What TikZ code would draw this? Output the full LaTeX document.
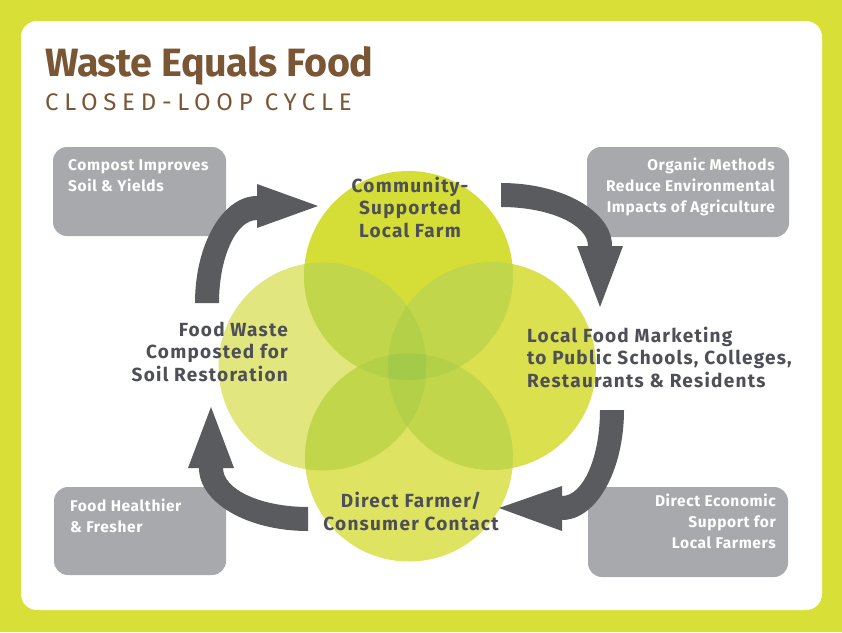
\documentclass[tikz,border=0pt]{standalone}
\usepackage{fontspec}
\setmainfont{Fira Sans}
\newfontfamily\titlefont{Fira Sans}[LetterSpace=-1]
\newfontfamily\labfont{Fira Sans}[LetterSpace=6.5]
\newfontfamily\boxfont{Fira Sans}[LetterSpace=4]
\newfontfamily\subfont{Fira Sans}[LetterSpace=24]
\definecolor{bglime}{RGB}{216,224,56}
\definecolor{brownc}{RGB}{123,86,52}
\definecolor{boxc}{RGB}{167,169,172}
\definecolor{arrowc}{RGB}{90,91,95}
\definecolor{labc}{RGB}{78,79,87}
\definecolor{ctopc}{RGB}{213,222,54}
\definecolor{cleftc}{RGB}{225,230,126}
\definecolor{crightc}{RGB}{219,224,78}
\definecolor{cbotc}{RGB}{222,228,98}
\definecolor{pairc}{RGB}{193,214,74}
\definecolor{tric}{RGB}{180,208,72}
\definecolor{centc}{RGB}{163,202,72}
\tikzset{
  graybox/.style={fill=boxc, rounded corners=14pt, inner sep=0pt},
  lab/.style={inner sep=0pt, text=labc, font=\labfont\bfseries\fontsize{19}{22.5}\selectfont},
  boxtxt/.style={inner sep=0pt, text=white, font=\boxfont\bfseries\fontsize{15.5}{21}\selectfont},
  bigarrow/.style={fill=arrowc}
}
\begin{document}
\begin{tikzpicture}[x=1pt,y=-1pt]
\fill[bglime] (0,0) rectangle (842,632);
\fill[white, rounded corners=16pt] (21,21) rectangle (822,610);
\useasboundingbox (0,0) rectangle (842,632);

% title
\node[anchor=base west, inner sep=0pt, text=brownc, font=\titlefont\bfseries\fontsize{39.5}{40}\selectfont] (title) at (45,76) {Waste Equals Food};
\node[anchor=base west, inner sep=0pt, text=brownc, font=\subfont\fontsize{24}{24}\selectfont] (subtitle) at (45,110) {CLOSED-LOOP CYCLE};

% gray boxes
\node[graybox, minimum width=173pt, minimum height=89pt] (b1) at (139.5,191.5) {};
\node[graybox, minimum width=202pt, minimum height=90pt] (b2) at (688,192) {};
\node[graybox, minimum width=172pt, minimum height=88pt] (b3) at (140,531) {};
\node[graybox, minimum width=200pt, minimum height=90pt] (b4) at (688,532) {};

% box texts (anchor = baseline of last line)
\node[boxtxt, align=left, anchor=base west] (t1) at (68,191) {Compost Improves\\Soil \& Yields};
\node[boxtxt, align=right, anchor=base east] (t2) at (775,212) {Organic Methods\\Reduce Environmental\\Impacts of Agriculture};
\node[boxtxt, align=left, anchor=base west] (t3) at (70,532) {Food Healthier\\\& Fresher};
\node[boxtxt, align=right, anchor=base east] (t4) at (776,548) {Direct Economic\\Support for\\Local Farmers};

% circles
\def\cT{(408.5,275.5) circle[radius=104.5pt]}
\def\cL{(322.5,366.5) circle[radius=104pt]}
\def\cR{(492,366) circle[radius=104pt]}
\def\cB{(409,457.5) circle[radius=104pt]}
\fill[cleftc] \cL;
\fill[crightc] \cR;
\fill[ctopc] \cT;
\fill[cbotc] \cB;
% pair overlaps
\begin{scope}\clip \cT; \fill[pairc] \cL; \end{scope}
\begin{scope}\clip \cT; \fill[pairc] \cR; \end{scope}
\begin{scope}\clip \cB; \fill[pairc] \cL; \end{scope}
\begin{scope}\clip \cB; \fill[pairc] \cR; \end{scope}
\begin{scope}\clip \cT; \fill[pairc] \cB; \end{scope}
\begin{scope}\clip \cL; \fill[pairc] \cR; \end{scope}
% triple overlaps
\begin{scope}\clip \cT; \clip \cL; \fill[tric] \cR; \end{scope}
\begin{scope}\clip \cT; \clip \cL; \fill[tric] \cB; \end{scope}
\begin{scope}\clip \cT; \clip \cR; \fill[tric] \cB; \end{scope}
\begin{scope}\clip \cL; \clip \cR; \fill[tric] \cB; \end{scope}
% centre
\begin{scope}\clip \cT; \clip \cL; \clip \cR; \fill[centc] \cB; \end{scope}
\path (408.5,275.5) node[circle, minimum size=209pt, inner sep=0pt] (ctop) {};
\path (322.5,366.5) node[circle, minimum size=208pt, inner sep=0pt] (cleft) {};
\path (492,366) node[circle, minimum size=208pt, inner sep=0pt] (cright) {};
\path (409,457.5) node[circle, minimum size=208pt, inner sep=0pt] (cbot) {};

% big arrows
\fill[bigarrow] (195,303) .. controls (195,243.9) and (222.8,196) .. (257,196)
  -- (257,184) -- (318,206) -- (257,228) -- (257,220)
  .. controls (236.0,220) and (219,257.2) .. (219,303) -- cycle;
\fill[bigarrow] (501,183) .. controls (562.4,183) and (612,211.2) .. (612,246)
  -- (623,246) -- (600,307) -- (577,246) -- (588,246)
  .. controls (588,224.5) and (549.1,207) .. (501,207) -- cycle;
\fill[bigarrow] (624,410) .. controls (624,470.8) and (596.2,520) .. (562,520)
  -- (562,531) -- (499,508) -- (562,486) -- (562,496)
  .. controls (583,496) and (600,457.5) .. (600,410) -- cycle;
\fill[bigarrow] (308,531) .. controls (247.8,531) and (199,502.8) .. (199,468)
  -- (188,468) -- (211,407) -- (234,468) -- (223,468)
  .. controls (223,489.5) and (261.1,507) .. (308,507) -- cycle;

% circle labels (anchor = baseline of last line)
\node[lab, align=center, anchor=base] (lfarm) at (410,237) {Community-\\Supported\\Local Farm};
\node[lab, align=right, anchor=base east] (lwaste) at (288,381) {Food Waste\\Composted for\\Soil Restoration};
\node[lab, align=left, anchor=base west] (lmarket) at (527,387) {Local Food Marketing\\to Public Schools, Colleges,\\Restaurants \& Residents};
\node[lab, align=center, anchor=base] (lcontact) at (411,530) {Direct Farmer/\\Consumer Contact};
\end{tikzpicture}
\end{document}
